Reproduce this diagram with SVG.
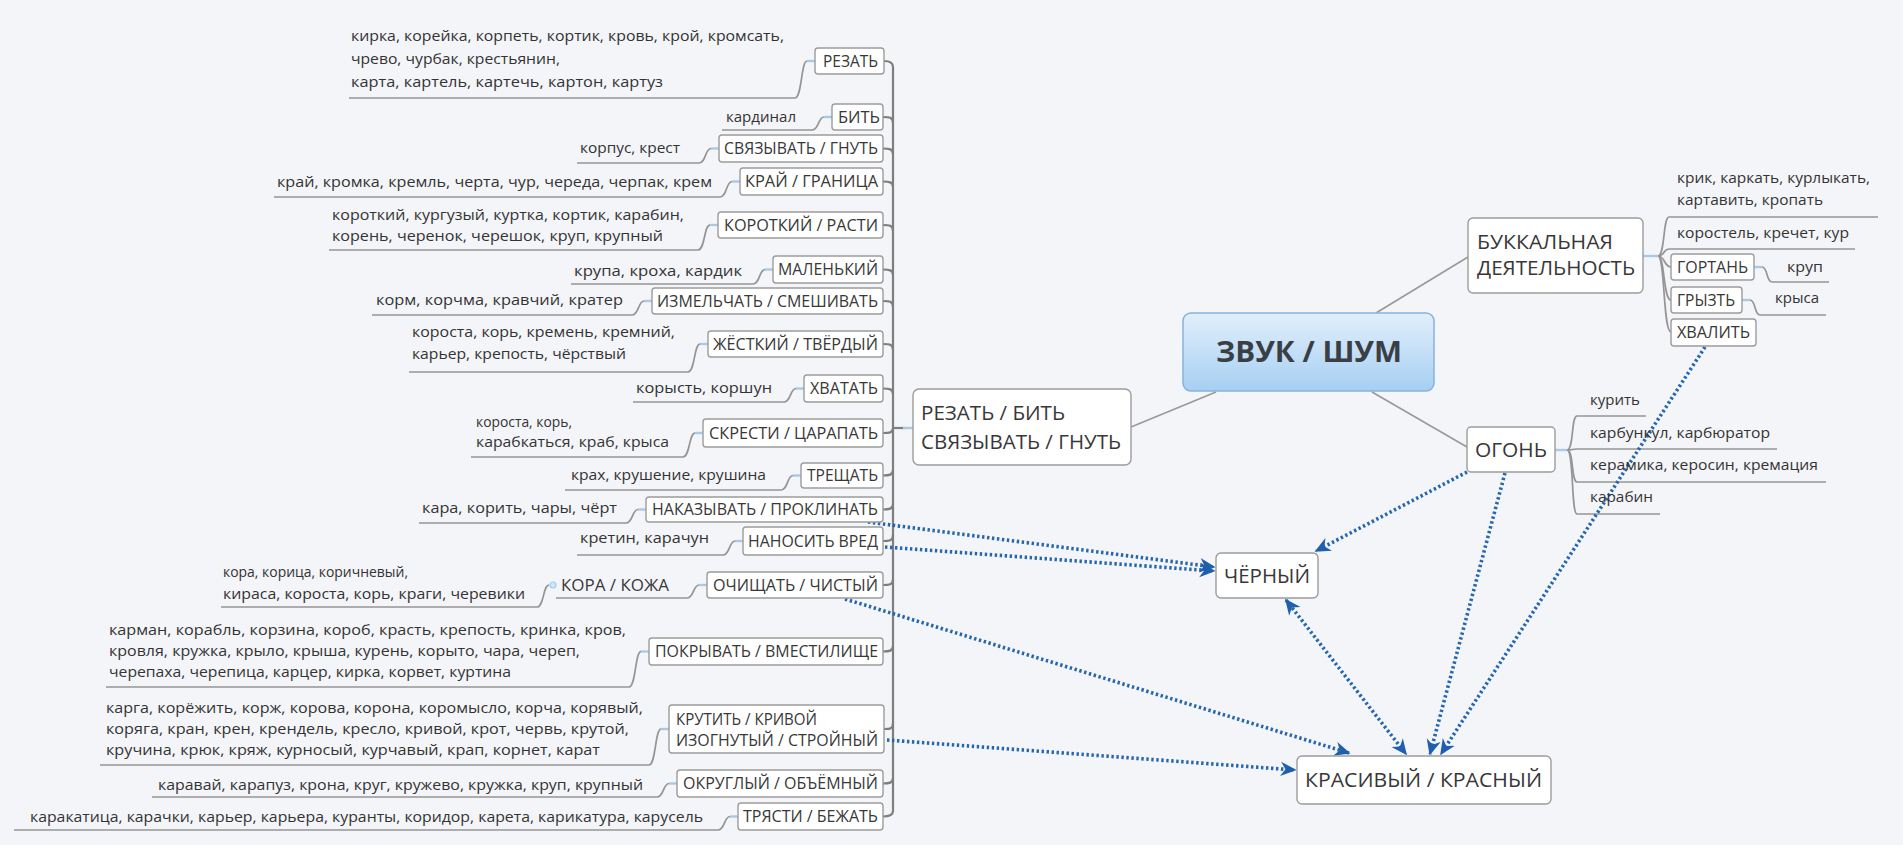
<svg xmlns="http://www.w3.org/2000/svg" width="1903" height="845" viewBox="0 0 1903 845">
<style>
.bg{fill:#f4f5f8}
.box{fill:#ffffff;stroke:#9c9c9c;stroke-width:1.4}
.bt{font-family:"Open Sans","Noto Sans",sans-serif;font-size:16px;fill:#383838}
.big{font-size:19.5px}
.lt{font-family:"Open Sans","Noto Sans",sans-serif;font-size:14.5px;fill:#333333}
.ul{stroke:#959595;stroke-width:1.7;fill:none}
.tr{stroke:#7e7e7e;stroke-width:2.2;fill:none}
.tick{stroke:#a9c9e8;stroke-width:2.4}
.ln{stroke:#999999;stroke-width:1.6;fill:none}
.dot{stroke:#2566b0;stroke-width:3.6;stroke-dasharray:2.4 2.6;fill:none}
</style>
<defs>
<linearGradient id="cg" x1="0" y1="0" x2="0" y2="1">
<stop offset="0" stop-color="#e2effb"/>
<stop offset="1" stop-color="#a6cff2"/>
</linearGradient>
<marker id="ah" viewBox="0 0 10 10" refX="9" refY="5" markerWidth="16" markerHeight="16" markerUnits="userSpaceOnUse" orient="auto-start-reverse">
<path d="M0,0.5 L10,5 L0,9.5 L3,5 z" fill="#1f5fab"/>
</marker>
</defs>
<rect class="bg" x="0" y="0" width="1903" height="845"/>

<g id="connectors">
<path class="tr" d="M893 67 L893 811"/>
<path class="tr" d="M884 61 C890 61 893 63 893 67"/>
<path class="tr" d="M883 117 C889 117 893 117 893 123"/>
<path class="tr" d="M883 148.5 C889 148.5 893 149 893 154"/>
<path class="tr" d="M883 181.5 C889 181.5 893 182 893 187"/>
<path class="tr" d="M883 225 C889 225 893 225 893 231"/>
<path class="tr" d="M883 269.5 C889 269.5 893 270 893 275"/>
<path class="tr" d="M883 301 C889 301 893 301 893 307"/>
<path class="tr" d="M883 344 C889 344 893 344 893 350"/>
<path class="tr" d="M883 388.5 C889 388.5 893 389 893 394"/>
<path class="tr" d="M883 433 C889 433 893 433 893 428"/>
<path class="tr" d="M883 475.5 C889 475.5 893 475 893 470"/>
<path class="tr" d="M883 509.5 C889 509.5 893 509 893 504"/>
<path class="tr" d="M883 541 C889 541 893 541 893 535"/>
<path class="tr" d="M883 585 C889 585 893 585 893 579"/>
<path class="tr" d="M883 651.5 C889 651.5 893 651 893 646"/>
<path class="tr" d="M884 729 C890 729 893 729 893 723"/>
<path class="tr" d="M883 783.5 C889 783.5 893 783 893 778"/>
<path class="tr" d="M883 816.5 C889 816.5 893 815 893 811"/>
<path class="tr" d="M893 428 L905 428"/>
<line class="tick" x1="903" y1="428" x2="913" y2="428"/>

<path class="ul" d="M349 98 L795 98 C802 98 801 61 807 61"/><line class="tick" x1="807" y1="61" x2="815" y2="61"/>
<path class="ul" d="M722 130 L812 130 C819 130 818 117 824 117"/><line class="tick" x1="824" y1="117" x2="832" y2="117"/>
<path class="ul" d="M577 163 L699 163 C706 163 705 148.5 711 148.5"/><line class="tick" x1="711" y1="148.5" x2="719" y2="148.5"/>
<path class="ul" d="M274 197 L720 197 C727 197 726 181.5 732 181.5"/><line class="tick" x1="732" y1="181.5" x2="740" y2="181.5"/>
<path class="ul" d="M329 250 L698 250 C705 250 704 225 710 225"/><line class="tick" x1="710" y1="225" x2="718" y2="225"/>
<path class="ul" d="M571 284 L753 284 C760 284 759 269.5 765 269.5"/><line class="tick" x1="765" y1="269.5" x2="773" y2="269.5"/>
<path class="ul" d="M372 315 L632 315 C639 315 638 301 644 301"/><line class="tick" x1="644" y1="301" x2="652" y2="301"/>
<path class="ul" d="M409 372 L688 372 C695 372 694 344 700 344"/><line class="tick" x1="700" y1="344" x2="708" y2="344"/>
<path class="ul" d="M633 402 L784 402 C791 402 790 388.5 796 388.5"/><line class="tick" x1="796" y1="388.5" x2="804" y2="388.5"/>
<path class="ul" d="M471 457 L683 457 C690 457 689 433 695 433"/><line class="tick" x1="695" y1="433" x2="703" y2="433"/>
<path class="ul" d="M565 490 L781 490 C788 490 787 475.5 793 475.5"/><line class="tick" x1="793" y1="475.5" x2="801" y2="475.5"/>
<path class="ul" d="M419 523 L626 523 C633 523 632 509.5 638 509.5"/><line class="tick" x1="638" y1="509.5" x2="646" y2="509.5"/>
<path class="ul" d="M577 555 L723 555 C730 555 729 541 735 541"/><line class="tick" x1="735" y1="541" x2="743" y2="541"/>
<path class="ul" d="M556 598 L687 598 C694 598 693 585 699 585"/><line class="tick" x1="699" y1="585" x2="707" y2="585"/>
<path class="ul" d="M221 607 L537 607 C544 607 543 585 549 585"/><circle cx="553" cy="585" r="3" fill="#d6e6f5" stroke="#a9c9e8" stroke-width="1.2"/>
<path class="ul" d="M106 687 L629 687 C636 687 635 651.5 641 651.5"/><line class="tick" x1="641" y1="651.5" x2="649" y2="651.5"/>
<path class="ul" d="M100 765 L649 765 C656 765 655 729 661 729"/><line class="tick" x1="661" y1="729" x2="669" y2="729"/>
<path class="ul" d="M152 797 L657 797 C664 797 663 783.5 669 783.5"/><line class="tick" x1="669" y1="783.5" x2="677" y2="783.5"/>
<path class="ul" d="M14 830 L718 830 C725 830 724 816.5 730 816.5"/><line class="tick" x1="730" y1="816.5" x2="738" y2="816.5"/>

<path class="ln" d="M1216 392 L1131 427"/>
<path class="ln" d="M1376 313 L1468 257"/>
<path class="ln" d="M1372 392 L1467 447"/>

<line class="tick" x1="1643" y1="256" x2="1658" y2="256"/>
<path class="ul" d="M1658 256 C1665 256 1663 217 1669 217 L1878 217"/>
<path class="ul" d="M1658 256 C1665 256 1663 249 1669 249 L1855 249"/>
<path class="ul" d="M1658 256 C1665 256 1664 267 1671 267"/>
<path class="ul" d="M1658 256 C1665 256 1663 300 1671 300"/>
<path class="ul" d="M1658 256 C1665 256 1663 332 1671 332"/>
<line class="tick" x1="1754" y1="267" x2="1762" y2="267"/>
<path class="ul" d="M1762 267 C1768 267 1766 282 1772 282 L1829 282"/>
<line class="tick" x1="1742" y1="300" x2="1750" y2="300"/>
<path class="ul" d="M1750 300 C1756 300 1754 315 1760 315 L1826 315"/>

<line class="tick" x1="1555" y1="450" x2="1567" y2="450"/>
<path class="ul" d="M1567 450 C1574 450 1571 416 1577 416 L1646 416"/>
<path class="ul" d="M1567 450 C1574 450 1571 449 1577 449 L1777 449"/>
<path class="ul" d="M1567 450 C1574 450 1571 482 1577 482 L1826 482"/>
<path class="ul" d="M1567 450 C1574 450 1571 514 1577 514 L1660 514"/>

<path class="dot" d="M868 522 L1214 567" marker-end="url(#ah)"/>
<path class="dot" d="M885 547 L1214 571" marker-end="url(#ah)"/>
<path class="dot" d="M845 599 L1349 753" marker-end="url(#ah)"/>
<path class="dot" d="M887 740 L1295 770" marker-end="url(#ah)"/>
<path class="dot" d="M1467 472 L1316 551" marker-end="url(#ah)"/>
<path class="dot" d="M1505 473 L1430 754" marker-end="url(#ah)"/>
<path class="dot" d="M1705 347 L1441 754" marker-end="url(#ah)"/>
<path class="dot" d="M1286 600 L1406 754" marker-start="url(#ah)" marker-end="url(#ah)"/>
</g>

<g id="n-center">
<rect x="1183" y="313" width="251" height="78" rx="8" fill="url(#cg)" stroke="#86b2da" stroke-width="1.5"/>
<text x="1309" y="362" text-anchor="middle" font-family="Open Sans, Noto Sans, sans-serif" font-size="28" font-weight="bold" fill="#3a3f45" textLength="186" lengthAdjust="spacingAndGlyphs">ЗВУК / ШУМ</text>
</g>

<g id="n-main">
<rect class="box" x="913" y="389" width="218" height="76" rx="6"/>
<text class="bt big" x="921" y="420" textLength="144" lengthAdjust="spacingAndGlyphs">РЕЗАТЬ / БИТЬ</text>
<text class="bt big" x="921" y="449" textLength="200" lengthAdjust="spacingAndGlyphs">СВЯЗЫВАТЬ / ГНУТЬ</text>
</g>

<g id="n1"><rect class="box" x="815" y="48" width="69" height="26" rx="3"/><text class="bt" x="823" y="66.5" textLength="55" lengthAdjust="spacingAndGlyphs">РЕЗАТЬ</text>
<text class="lt" x="351" y="41" textLength="433" lengthAdjust="spacingAndGlyphs">кирка, корейка, корпеть, кортик, кровь, крой, кромсать,</text>
<text class="lt" x="351" y="64" textLength="209" lengthAdjust="spacingAndGlyphs">чрево, чурбак, крестьянин,</text>
<text class="lt" x="351" y="87" textLength="312" lengthAdjust="spacingAndGlyphs">карта, картель, картечь, картон, картуз</text></g>

<g id="n2"><rect class="box" x="832" y="104" width="51" height="26" rx="3"/><text class="bt" x="838" y="122.5" textLength="42" lengthAdjust="spacingAndGlyphs">БИТЬ</text>
<text class="lt" x="726" y="122" textLength="70" lengthAdjust="spacingAndGlyphs">кардинал</text></g>

<g id="n3"><rect class="box" x="719" y="135" width="164" height="27" rx="3"/><text class="bt" x="724" y="154" textLength="154" lengthAdjust="spacingAndGlyphs">СВЯЗЫВАТЬ / ГНУТЬ</text>
<text class="lt" x="580" y="153" textLength="100" lengthAdjust="spacingAndGlyphs">корпус, крест</text></g>

<g id="n4"><rect class="box" x="740" y="168" width="143" height="27" rx="3"/><text class="bt" x="745" y="187" textLength="133" lengthAdjust="spacingAndGlyphs">КРАЙ / ГРАНИЦА</text>
<text class="lt" x="277" y="187" textLength="435" lengthAdjust="spacingAndGlyphs">край, кромка, кремль, черта, чур, череда, черпак, крем</text></g>

<g id="n5"><rect class="box" x="718" y="212" width="165" height="26" rx="3"/><text class="bt" x="724" y="230.5" textLength="154" lengthAdjust="spacingAndGlyphs">КОРОТКИЙ / РАСТИ</text>
<text class="lt" x="332" y="220" textLength="352" lengthAdjust="spacingAndGlyphs">короткий, кургузый, куртка, кортик, карабин,</text>
<text class="lt" x="332" y="241" textLength="331" lengthAdjust="spacingAndGlyphs">корень, черенок, черешок, круп, крупный</text></g>

<g id="n6"><rect class="box" x="773" y="256" width="110" height="27" rx="3"/><text class="bt" x="778" y="275" textLength="100" lengthAdjust="spacingAndGlyphs">МАЛЕНЬКИЙ</text>
<text class="lt" x="574" y="276" textLength="168" lengthAdjust="spacingAndGlyphs">крупа, кроха, кардик</text></g>

<g id="n7"><rect class="box" x="652" y="288" width="231" height="26" rx="3"/><text class="bt" x="657" y="306.5" textLength="221" lengthAdjust="spacingAndGlyphs">ИЗМЕЛЬЧАТЬ / СМЕШИВАТЬ</text>
<text class="lt" x="376" y="305" textLength="247" lengthAdjust="spacingAndGlyphs">корм, корчма, кравчий, кратер</text></g>

<g id="n8"><rect class="box" x="708" y="331" width="175" height="26" rx="3"/><text class="bt" x="713" y="349.5" textLength="165" lengthAdjust="spacingAndGlyphs">ЖЁСТКИЙ / ТВЁРДЫЙ</text>
<text class="lt" x="412" y="337" textLength="263" lengthAdjust="spacingAndGlyphs">короста, корь, кремень, кремний,</text>
<text class="lt" x="412" y="359" textLength="214" lengthAdjust="spacingAndGlyphs">карьер, крепость, чёрствый</text></g>

<g id="n9"><rect class="box" x="804" y="375" width="79" height="27" rx="3"/><text class="bt" x="810" y="394" textLength="68" lengthAdjust="spacingAndGlyphs">ХВАТАТЬ</text>
<text class="lt" x="636" y="393" textLength="136" lengthAdjust="spacingAndGlyphs">корысть, коршун</text></g>

<g id="n10"><rect class="box" x="703" y="419" width="180" height="28" rx="3"/><text class="bt" x="709" y="438.5" textLength="169" lengthAdjust="spacingAndGlyphs">СКРЕСТИ / ЦАРАПАТЬ</text>
<text class="lt" x="476" y="427" textLength="96" lengthAdjust="spacingAndGlyphs">короста, корь,</text>
<text class="lt" x="476" y="447" textLength="193" lengthAdjust="spacingAndGlyphs">карабкаться, краб, крыса</text></g>

<g id="n11"><rect class="box" x="801" y="463" width="82" height="25" rx="3"/><text class="bt" x="807" y="481" textLength="71" lengthAdjust="spacingAndGlyphs">ТРЕЩАТЬ</text>
<text class="lt" x="571" y="480" textLength="195" lengthAdjust="spacingAndGlyphs">крах, крушение, крушина</text></g>

<g id="n12"><rect class="box" x="646" y="497" width="237" height="25" rx="3"/><text class="bt" x="652" y="515" textLength="226" lengthAdjust="spacingAndGlyphs">НАКАЗЫВАТЬ / ПРОКЛИНАТЬ</text>
<text class="lt" x="422" y="513" textLength="195" lengthAdjust="spacingAndGlyphs">кара, корить, чары, чёрт</text></g>

<g id="n13"><rect class="box" x="743" y="527" width="140" height="28" rx="3"/><text class="bt" x="748" y="546.5" textLength="130" lengthAdjust="spacingAndGlyphs">НАНОСИТЬ ВРЕД</text>
<text class="lt" x="580" y="543" textLength="129" lengthAdjust="spacingAndGlyphs">кретин, карачун</text></g>

<g id="n14"><rect class="box" x="707" y="572" width="176" height="26" rx="3"/><text class="bt" x="713" y="590.5" textLength="165" lengthAdjust="spacingAndGlyphs">ОЧИЩАТЬ / ЧИСТЫЙ</text></g>

<g id="n14a"><text class="bt" x="561" y="591" textLength="108" lengthAdjust="spacingAndGlyphs">КОРА / КОЖА</text>
<text class="lt" x="223" y="577" textLength="185" lengthAdjust="spacingAndGlyphs">кора, корица, коричневый,</text>
<text class="lt" x="223" y="599" textLength="302" lengthAdjust="spacingAndGlyphs">кираса, короста, корь, краги, черевики</text></g>

<g id="n15"><rect class="box" x="649" y="638" width="234" height="27" rx="3"/><text class="bt" x="655" y="657" textLength="223" lengthAdjust="spacingAndGlyphs">ПОКРЫВАТЬ / ВМЕСТИЛИЩЕ</text>
<text class="lt" x="109" y="635" textLength="517" lengthAdjust="spacingAndGlyphs">карман, корабль, корзина, короб, красть, крепость, кринка, кров,</text>
<text class="lt" x="109" y="656" textLength="471" lengthAdjust="spacingAndGlyphs">кровля, кружка, крыло, крыша, курень, корыто, чара, череп,</text>
<text class="lt" x="109" y="677" textLength="402" lengthAdjust="spacingAndGlyphs">черепаха, черепица, карцер, кирка, корвет, куртина</text></g>

<g id="n16"><rect class="box" x="669" y="705" width="215" height="48" rx="3"/><text class="bt" x="676" y="725" textLength="141" lengthAdjust="spacingAndGlyphs">КРУТИТЬ / КРИВОЙ</text><text class="bt" x="676" y="745.5" textLength="202" lengthAdjust="spacingAndGlyphs">ИЗОГНУТЫЙ / СТРОЙНЫЙ</text>
<text class="lt" x="106" y="713" textLength="537" lengthAdjust="spacingAndGlyphs">карга, корёжить, корж, корова, корона, коромысло, корча, корявый,</text>
<text class="lt" x="106" y="734" textLength="523" lengthAdjust="spacingAndGlyphs">коряга, кран, крен, крендель, кресло, кривой, крот, червь, крутой,</text>
<text class="lt" x="106" y="755" textLength="494" lengthAdjust="spacingAndGlyphs">кручина, крюк, кряж, курносый, курчавый, крап, корнет, карат</text></g>

<g id="n17"><rect class="box" x="677" y="770" width="206" height="27" rx="3"/><text class="bt" x="683" y="789" textLength="195" lengthAdjust="spacingAndGlyphs">ОКРУГЛЫЙ / ОБЪЁМНЫЙ</text>
<text class="lt" x="158" y="790" textLength="485" lengthAdjust="spacingAndGlyphs">каравай, карапуз, крона, круг, кружево, кружка, круп, крупный</text></g>

<g id="n18"><rect class="box" x="738" y="803" width="145" height="27" rx="3"/><text class="bt" x="743" y="822" textLength="135" lengthAdjust="spacingAndGlyphs">ТРЯСТИ / БЕЖАТЬ</text>
<text class="lt" x="30" y="822" textLength="673" lengthAdjust="spacingAndGlyphs">каракатица, карачки, карьер, карьера, куранты, коридор, карета, карикатура, карусель</text></g>

<g id="n-buccal"><rect class="box" x="1468" y="218" width="175" height="75" rx="5"/>
<text class="bt big" x="1477" y="249" textLength="136" lengthAdjust="spacingAndGlyphs">БУККАЛЬНАЯ</text>
<text class="bt big" x="1477" y="275" textLength="158" lengthAdjust="spacingAndGlyphs">ДЕЯТЕЛЬНОСТЬ</text></g>
<g id="n-b1"><text class="lt" x="1677" y="183" textLength="193" lengthAdjust="spacingAndGlyphs">крик, каркать, курлыкать,</text>
<text class="lt" x="1677" y="205" textLength="146" lengthAdjust="spacingAndGlyphs">картавить, кропать</text></g>
<g id="n-b2"><text class="lt" x="1677" y="238" textLength="172" lengthAdjust="spacingAndGlyphs">коростель, кречет, кур</text></g>
<g id="n-b3"><rect class="box" x="1671" y="254" width="83" height="26" rx="3"/><text class="bt" x="1677" y="272.5" textLength="71" lengthAdjust="spacingAndGlyphs">ГОРТАНЬ</text>
<text class="lt" x="1787" y="272" textLength="36" lengthAdjust="spacingAndGlyphs">круп</text></g>
<g id="n-b4"><rect class="box" x="1671" y="287" width="71" height="26" rx="3"/><text class="bt" x="1677" y="305.5" textLength="58" lengthAdjust="spacingAndGlyphs">ГРЫЗТЬ</text>
<text class="lt" x="1775" y="303" textLength="44" lengthAdjust="spacingAndGlyphs">крыса</text></g>
<g id="n-b5"><rect class="box" x="1671" y="319" width="85" height="27" rx="3"/><text class="bt" x="1677" y="338" textLength="73" lengthAdjust="spacingAndGlyphs">ХВАЛИТЬ</text></g>

<g id="n-fire"><rect class="box" x="1467" y="427" width="88" height="45" rx="4"/>
<text class="bt big" x="1475" y="457" textLength="72" lengthAdjust="spacingAndGlyphs">ОГОНЬ</text></g>
<g id="n-f1"><text class="lt" x="1590" y="405" textLength="50" lengthAdjust="spacingAndGlyphs">курить</text></g>
<g id="n-f2"><text class="lt" x="1590" y="438" textLength="180" lengthAdjust="spacingAndGlyphs">карбункул, карбюратор</text></g>
<g id="n-f3"><text class="lt" x="1590" y="470" textLength="228" lengthAdjust="spacingAndGlyphs">керамика, керосин, кремация</text></g>
<g id="n-f4"><text class="lt" x="1590" y="502" textLength="63" lengthAdjust="spacingAndGlyphs">карабин</text></g>

<g id="n-black"><rect class="box" x="1216" y="553" width="102" height="45" rx="5"/>
<text class="bt big" x="1224" y="583" textLength="86" lengthAdjust="spacingAndGlyphs">ЧЁРНЫЙ</text></g>

<g id="n-red"><rect class="box" x="1297" y="756" width="254" height="48" rx="5"/>
<text class="bt big" x="1305" y="787" textLength="237" lengthAdjust="spacingAndGlyphs">КРАСИВЫЙ / КРАСНЫЙ</text></g>
</svg>
